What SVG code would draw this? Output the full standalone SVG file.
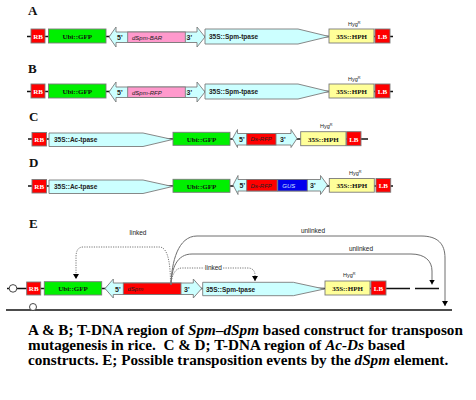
<svg xmlns="http://www.w3.org/2000/svg" width="476" height="400" viewBox="0 0 476 400">
<defs>
<style>
.bk{stroke:#111;stroke-width:1.3;fill:none}
.bx{stroke:#7a7a7a;stroke-width:0.9}
.red{fill:#ff0000}
.grn{fill:#00f000}
.cyn{fill:#ccffff}
.pnk{fill:#ff99cc}
.yel{fill:#ffff99}
.blu{fill:#0000ee}
.sf{font-family:"Liberation Serif","Times New Roman",serif;font-weight:bold;font-size:7px;text-anchor:middle;fill:#111}
.wt{fill:#fff}
.ss{font-family:"Liberation Sans",Arial,sans-serif;font-weight:bold;font-size:6.5px;fill:#222}
.pr{font-family:"Liberation Sans",Arial,sans-serif;font-weight:bold;font-size:7px;fill:#222}
.it{font-family:"Liberation Sans",Arial,sans-serif;font-style:italic;font-size:6px;fill:#222}
.hy{font-family:"Liberation Sans",Arial,sans-serif;font-size:5.5px;fill:#222}
.let{font-family:"Liberation Serif","Times New Roman",serif;font-weight:bold;font-size:13px;fill:#111}
.cap{font-family:"Liberation Serif","Times New Roman",serif;font-weight:bold;font-size:15.2px;fill:#000}
.lk{font-family:"Liberation Sans",Arial,sans-serif;font-size:6.5px;fill:#222;stroke:#fff;stroke-width:2.5;paint-order:stroke}
.sol{fill:none;stroke:#6e6e6e;stroke-width:1}
.dot{fill:none;stroke:#777;stroke-width:1;stroke-dasharray:1.2 1.2}
.ahp{fill:#000;stroke:none}
</style>
<marker id="ah" markerUnits="userSpaceOnUse" markerWidth="6" markerHeight="6" refX="5" refY="3" orient="auto"><path class="ahp" d="M0,0 L5,3 L0,6 Z"/></marker>
</defs>
<rect width="476" height="400" fill="#fff"/>

<!-- Row A -->
<g id="rowA">
<text class="let" x="28" y="15">A</text>
<path class="bk" d="M27,36.5 H393"/>
<g id="A-RB"><rect class="bx red" x="31" y="29" width="14" height="14"/><text class="sf wt" x="38" y="39">RB</text></g>
<g id="A-ubi"><rect class="bx grn" x="48.5" y="29" width="57.5" height="14"/><text class="sf" x="77.2" y="39">Ubi::GFP</text></g>
<g id="A-dspm"><path class="bx cyn" d="M109,37 L116,27 V32 H197 V27 L205,37 L197,47 V42.5 H116 V47 Z"/><rect class="bx pnk" x="127.7" y="32" width="57.6" height="10.5"/><text class="pr" x="117" y="40">5'</text><text class="it" x="132" y="39.5">dSpm-BAR</text><text class="pr" x="186.5" y="40">3'</text></g>
<g id="A-tpase"><path class="bx cyn" d="M205,29 H298 L329,36.5 L298,44 H205 Z"/><text class="ss" x="209" y="39">35S::Spm-tpase</text></g>
<g id="A-hph"><rect class="bx yel" x="329" y="29" width="45" height="14"/><text class="sf" x="351.5" y="39">35S::HPH</text><text class="hy" x="348" y="26">Hyg<tspan font-size="3.8" dy="-2">R</tspan></text></g>
<g id="A-LB"><rect class="bx red" x="375" y="29" width="15" height="14"/><text class="sf wt" x="382.5" y="39">LB</text></g>
</g>

<!-- Row B -->
<g id="rowB">
<text class="let" x="28" y="73.3">B</text>
<path class="bk" d="M27,91.5 H393"/>
<g id="B-RB"><rect class="bx red" x="31" y="84" width="14" height="14"/><text class="sf wt" x="38" y="94">RB</text></g>
<g id="B-ubi"><rect class="bx grn" x="48.5" y="84" width="57.5" height="14"/><text class="sf" x="77.2" y="94">Ubi::GFP</text></g>
<g id="B-dspm"><path class="bx cyn" d="M109,92 L116,82 V87 H197 V82 L205,92 L197,102 V97.5 H116 V102 Z"/><rect class="bx pnk" x="127.7" y="87" width="57.6" height="10.5"/><text class="pr" x="117" y="95">5'</text><text class="it" x="132" y="94.5">dSpm-RFP</text><text class="pr" x="186.5" y="95">3'</text></g>
<g id="B-tpase"><path class="bx cyn" d="M205,84 H298 L329,91.5 L298,99 H205 Z"/><text class="ss" x="209" y="94">35S::Spm-tpase</text></g>
<g id="B-hph"><rect class="bx yel" x="329" y="84" width="45" height="14"/><text class="sf" x="351.5" y="94">35S::HPH</text><text class="hy" x="348" y="81">Hyg<tspan font-size="3.8" dy="-2">R</tspan></text></g>
<g id="B-LB"><rect class="bx red" x="375" y="84" width="15" height="14"/><text class="sf wt" x="382.5" y="94">LB</text></g>
</g>

<!-- Row C -->
<g id="rowC">
<text class="let" x="29" y="121">C</text>
<path class="bk" d="M28,139 H368"/>
<g id="C-RB"><rect class="bx red" x="32" y="132.5" width="14.5" height="13.5"/><text class="sf wt" x="39.2" y="142">RB</text></g>
<g id="C-ac"><path class="bx cyn" d="M49,133 H143 L172.5,139.5 L143,146.5 H49 Z"/><text class="ss" x="54" y="142.2">35S::Ac-tpase</text></g>
<g id="C-ubi"><rect class="bx grn" x="173" y="132.3" width="57" height="13"/><text class="sf" x="201.5" y="141.5">Ubi::GFP</text></g>
<g id="C-ds"><path class="bx cyn" d="M232.5,138.5 L237.5,129.5 V133.5 H291 V129.5 L297,138.5 L291,147.5 V145 H237.5 V147.5 Z"/><rect class="bx red" x="246.7" y="133.5" width="29.3" height="11.5"/><text class="pr" x="239" y="141.7">5'</text><text class="it wt" x="250.5" y="141.3">Ds-RFP</text><text class="pr" x="280" y="141.7">3'</text></g>
<g id="C-hph"><rect class="bx yel" x="300.7" y="131.7" width="45.3" height="14"/><text class="sf" x="323.3" y="141.5">35S::HPH</text><text class="hy" x="320" y="128.3">Hyg<tspan font-size="3.8" dy="-2">R</tspan></text></g>
<g id="C-LB"><rect class="bx red" x="346.7" y="131.7" width="14.3" height="14"/><text class="sf wt" x="353.8" y="141.5">LB</text></g>
</g>

<!-- Row D -->
<g id="rowD">
<text class="let" x="29" y="166.7">D</text>
<path class="bk" d="M28,186 H393"/>
<g id="D-RB"><rect class="bx red" x="32" y="179.5" width="14.5" height="13.5"/><text class="sf wt" x="39.2" y="189">RB</text></g>
<g id="D-ac"><path class="bx cyn" d="M49,180 H143 L172.5,186.5 L143,193.5 H49 Z"/><text class="ss" x="54" y="189.2">35S::Ac-tpase</text></g>
<g id="D-ubi"><rect class="bx grn" x="173" y="179.3" width="57" height="13"/><text class="sf" x="201.5" y="188.5">Ubi::GFP</text></g>
<g id="D-ds"><path class="bx cyn" d="M233,185 L238,175.5 V179.5 H320.5 V175.5 L327.5,185 L320.5,194.5 V191 H238 V194.5 Z"/><rect class="bx red" x="246.7" y="179.5" width="30.5" height="11.5"/><rect class="bx blu" x="277.7" y="179.5" width="29.6" height="11.5"/><text class="pr" x="239.5" y="188">5'</text><text class="it wt" x="250.5" y="187.6">Ds-RFP</text><text class="it" x="282.3" y="187.6" style="fill:#cfe3ff">GUS</text><text class="pr" x="310" y="188">3'</text></g>
<g id="D-hph"><rect class="bx yel" x="329.3" y="178.5" width="45" height="13.7"/><text class="sf" x="351.8" y="188.2">35S::HPH</text><text class="hy" x="349" y="174.5">Hyg<tspan font-size="3.8" dy="-2">R</tspan></text></g>
<g id="D-LB"><rect class="bx red" x="376" y="178.5" width="14.7" height="13.7"/><text class="sf wt" x="383.3" y="188.2">LB</text></g>
</g>

<!-- Row E -->
<g id="rowE">
<text class="let" x="29" y="228.3">E</text>
<path class="bk" d="M7,288.5 H410 M415,288.5 H439"/>
<path class="bk" d="M6,310 H452"/>
<circle cx="13" cy="288.4" r="3.8" fill="#fff" stroke="#333" stroke-width="0.9"/>
<circle cx="33" cy="307" r="3.5" fill="#fff" stroke="#333" stroke-width="0.9"/>
<g id="E-RB"><rect class="bx red" x="26.7" y="282" width="14" height="13"/><text class="sf wt" x="33.7" y="291.3">RB</text></g>
<g id="E-ubi"><rect class="bx grn" x="44.3" y="281.7" width="57.4" height="13.3"/><text class="sf" x="73" y="291.2">Ubi::GFP</text></g>
<g id="E-dspm"><path class="bx cyn" d="M105,288.5 L113.3,279 V283 H193.3 V279 L201.7,288.5 L193.3,298 V294.5 H113.3 V298 Z"/><rect class="bx red" x="123.3" y="283" width="57.7" height="11.5"/><text class="pr" x="115" y="291.5">5'</text><text class="it wt" x="127.5" y="291">dSpm</text><text class="pr" x="184" y="291.5">3'</text></g>
<g id="E-tpase"><path class="bx cyn" d="M202.7,282.3 H293.3 L324.3,289 L293.3,295.7 H202.7 Z"/><text class="ss" x="206" y="291.6">35S::Spm-tpase</text></g>
<g id="E-hph"><rect class="bx yel" x="325" y="281" width="45" height="14"/><text class="sf" x="347.5" y="291">35S::HPH</text><text class="hy" x="343" y="276.5">Hyg<tspan font-size="3.8" dy="-2">R</tspan></text></g>
<g id="E-LB"><rect class="bx red" x="371" y="281" width="15" height="14"/><text class="sf wt" x="378.5" y="291">LB</text></g>
</g>

<g id="connectors">
<path class="sol" d="M171,285 C171.5,262 178,236 197,236 H421 C438,236 445,244 445,258 V306" marker-end="url(#ah)"/>
<path class="sol" d="M171,285 C171.5,268 177,254 192,254 H411 C425,254 432,261 432,271 V284.5" marker-end="url(#ah)"/>
<path class="dot" d="M170.5,284 C170.5,268 169,248 160,247 H83 C78,247 76,251 76,257 V279" marker-end="url(#ah)"/>
<path class="dot" d="M171,284 C172,275 175,268 182,268 H248 C252.5,268 255,271 255,275 V281" marker-end="url(#ah)"/>
<text class="lk" x="138" y="235" text-anchor="middle">linked</text>
<text class="lk" x="213.5" y="269.5" text-anchor="middle">linked</text>
<text class="lk" x="313" y="232.5" text-anchor="middle">unlinked</text>
<text class="lk" x="361" y="251" text-anchor="middle">unlinked</text>
</g>

<g id="caption">
<text class="cap" x="28" y="335">A &amp; B; T-DNA region of <tspan font-style="italic">Spm–dSpm</tspan> based construct for transposon</text>
<text class="cap" x="28" y="350" xml:space="preserve">mutagenesis in rice.  C &amp; D; T-DNA region of <tspan font-style="italic">Ac-Ds</tspan> based</text>
<text class="cap" x="28" y="365">constructs. E; Possible transposition events by the <tspan font-style="italic">dSpm</tspan> element.</text>
</g>
</svg>
